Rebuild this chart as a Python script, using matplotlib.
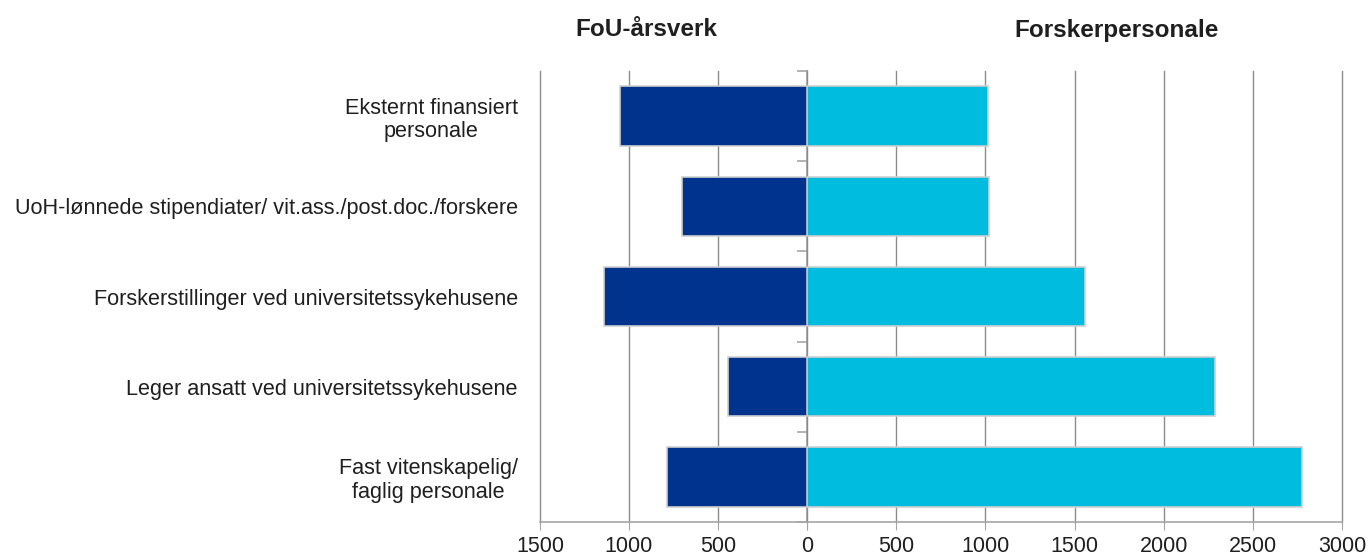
import matplotlib.pyplot as plt
from matplotlib.ticker import FixedLocator

plt.rcParams['font.family'] = ['Liberation Sans', 'DejaVu Sans']

categories = ["Eksternt finansiert\npersonale",
              "UoH-lønnede stipendiater/ vit.ass./post.doc./forskere",
              "Forskerstillinger ved universitetssykehusene",
              "Leger ansatt ved universitetssykehusene",
              "Fast vitenskapelig/\nfaglig personale"]
fou_aarsverk = [1050, 700, 1140, 444, 787]
forskerpersonale = [1017, 1020, 1558, 2289, 2775]
left_ticks = [1500, 1000, 500, 0]
right_ticks = [0, 500, 1000, 1500, 2000, 2500, 3000]

dark_blue = '#00338D'
light_blue = '#00BDE0'
grid_col = '#8C8C8C'
spine_col = '#A6A6A6'
text_col = '#1F1F1F'

fig = plt.figure(figsize=(13.7, 5.57), dpi=100)
ax1 = fig.add_axes([540/1370, 1-522/557, 267/1370, 451/557])
ax2 = fig.add_axes([807/1370, 1-522/557, 535/1370, 451/557])

ypos = list(range(len(categories)))
ax1.barh(ypos, fou_aarsverk, height=0.66, color=dark_blue, edgecolor='#CFCFCF', linewidth=1.2, zorder=3)
ax2.barh(ypos, forskerpersonale, height=0.66, color=light_blue, edgecolor='#CFCFCF', linewidth=1.2, zorder=3)

ax1.set_xlim(1500, 0)
ax2.set_xlim(0, 3000)
for ax, ticks in ((ax1, left_ticks), (ax2, right_ticks)):
    ax.set_ylim(len(categories) - 0.5, -0.5)
    ax.set_xticks(ticks)
    ax.xaxis.grid(True, color=grid_col, linewidth=1)
    ax.set_axisbelow(True)
    ax.tick_params(axis='x', direction='out', length=6, color=spine_col,
                   labelsize=15.5, labelcolor=text_col, pad=4)
    ax.spines['top'].set_visible(False)
    ax.spines['bottom'].set_color(spine_col)
    ax.spines['bottom'].set_linewidth(1.2)
    for gl in ax.get_xgridlines():
        gl.set_clip_on(False)

# the shared zero is labelled once, by the left panel
ax2.set_xticklabels([''] + [str(t) for t in right_ticks[1:]])

# left panel: category labels on the left, separator ticks on the zero line
ax1.spines['left'].set_visible(False)
ax1.spines['right'].set_color(spine_col)
ax1.spines['right'].set_linewidth(1.2)
ax1.set_yticks(ypos)
ax1.set_yticklabels(categories, fontsize=15.6, color=text_col,
                    multialignment='center', linespacing=1.15)
ax1.tick_params(axis='y', which='major', length=0, pad=16)
ax1.yaxis.set_minor_locator(FixedLocator([i - 0.5 for i in range(len(categories) + 1)]))
ax1.tick_params(axis='y', which='minor', left=False, right=True, direction='in',
                length=7, color=spine_col, width=1.2)

ax2.spines['left'].set_visible(False)
ax2.spines['right'].set_visible(False)
ax2.set_yticks([])

fig.text(646/1370, 1-30/557, "FoU-årsverk", ha='center', va='center',
         fontsize=17.5, fontweight='bold', color=text_col)
fig.text(1117/1370, 1-30/557, "Forskerpersonale", ha='center', va='center',
         fontsize=17.5, fontweight='bold', color=text_col)

fig.savefig('out.png', dpi=100)
